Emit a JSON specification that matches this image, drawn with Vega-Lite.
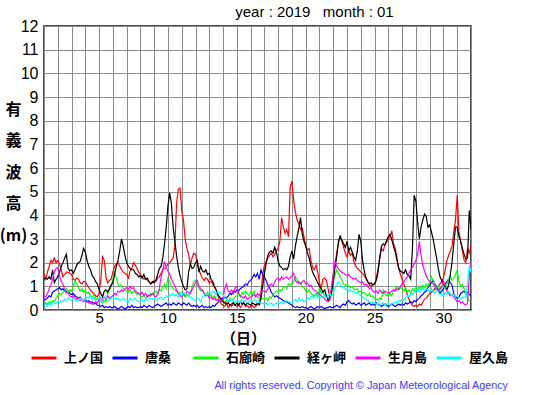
{
"$schema":"https://vega.github.io/schema/vega-lite/v6.json",
"width":427,"height":284,
"autosize":{"type":"none"},
"padding":{"left":44,"top":26,"right":84,"bottom":85},
"background":"white",
"config":{"view":{"stroke":"#111","strokeWidth":1.5},"font":"Liberation Sans"},
"title":{"text":"year : 2019 \u00a0 month : 01","font":"Liberation Sans","fontSize":15,"fontWeight":"normal","color":"#000","anchor":"middle","dx":57,"offset":-2},
"data":{"values":[
{"t":1,"上ノ国":1.5,"唐桑":0.4,"石廊崎":0.2,"経ヶ岬":1.3,"生月島":0.6,"屋久島":0.2},
{"t":1.125,"上ノ国":1.3,"唐桑":0.45,"石廊崎":0.3,"経ヶ岬":1.35,"生月島":0.55,"屋久島":0.25},
{"t":1.25,"上ノ国":1.6,"唐桑":0.5,"石廊崎":0.25,"経ヶ岬":1.3,"生月島":0.7,"屋久島":0.15},
{"t":1.375,"上ノ国":1.85,"唐桑":0.6,"石廊崎":0.35,"経ヶ岬":1.4,"生月島":0.9,"屋久島":0.3},
{"t":1.5,"上ノ国":2.1,"唐桑":0.55,"石廊崎":0.3,"経ヶ岬":1.3,"生月島":1.05,"屋久島":0.2},
{"t":1.625,"上ノ国":2.0,"唐桑":0.75,"石廊崎":0.4,"経ヶ岬":1.7,"生月島":1.3,"屋久島":0.35},
{"t":1.75,"上ノ国":2.2,"唐桑":0.8,"石廊崎":0.35,"経ヶ岬":1.15,"生月島":1.6,"屋久島":0.25},
{"t":1.875,"上ノ国":2.0,"唐桑":0.85,"石廊崎":0.5,"経ヶ岬":1.3,"生月島":1.75,"屋久島":0.3},
{"t":2,"上ノ国":2.1,"唐桑":0.9,"石廊崎":0.6,"経ヶ岬":1.4,"生月島":1.8,"屋久島":0.35},
{"t":2.125,"上ノ国":1.95,"唐桑":0.95,"石廊崎":0.7,"経ヶ岬":1.6,"生月島":1.45,"屋久島":0.3},
{"t":2.25,"上ノ国":1.7,"唐桑":0.85,"石廊崎":0.65,"経ヶ岬":1.85,"生月島":1.2,"屋久島":0.4},
{"t":2.375,"上ノ国":1.4,"唐桑":0.9,"石廊崎":0.75,"経ヶ岬":2.0,"生月島":1.1,"屋久島":0.35},
{"t":2.5,"上ノ国":1.5,"唐桑":0.8,"石廊崎":0.8,"経ヶ岬":2.2,"生月島":0.9,"屋久島":0.45},
{"t":2.625,"上ノ国":1.6,"唐桑":0.75,"石廊崎":0.9,"経ヶ岬":2.35,"生月島":0.75,"屋久島":0.4},
{"t":2.75,"上ノ国":1.6,"唐桑":0.8,"石廊崎":0.75,"経ヶ岬":1.75,"生月島":0.7,"屋久島":0.5},
{"t":2.875,"上ノ国":1.55,"唐桑":0.7,"石廊崎":0.85,"経ヶ岬":1.65,"生月島":0.6,"屋久島":0.45},
{"t":3,"上ノ国":1.5,"唐桑":0.65,"石廊崎":0.8,"経ヶ岬":1.7,"生月島":0.55,"屋久島":0.4},
{"t":3.125,"上ノ国":1.3,"唐桑":0.7,"石廊崎":1.0,"経ヶ岬":1.55,"生月島":0.6,"屋久島":0.5},
{"t":3.25,"上ノ国":1.25,"唐桑":0.6,"石廊崎":1.25,"経ヶ岬":1.7,"生月島":0.5,"屋久島":0.45},
{"t":3.375,"上ノ国":1.35,"唐桑":0.55,"石廊崎":1.1,"経ヶ岬":1.9,"生月島":0.45,"屋久島":0.35},
{"t":3.5,"上ノ国":1.3,"唐桑":0.5,"石廊崎":0.95,"経ヶ岬":2.0,"生月島":0.5,"屋久島":0.4},
{"t":3.625,"上ノ国":1.15,"唐桑":0.55,"石廊崎":0.8,"経ヶ岬":2.05,"生月島":0.4,"屋久島":0.5},
{"t":3.75,"上ノ国":1.1,"唐桑":0.45,"石廊崎":0.9,"経ヶ岬":2.3,"生月島":0.45,"屋久島":0.45},
{"t":3.875,"上ノ国":1.2,"唐桑":0.4,"石廊崎":0.75,"経ヶ岬":2.6,"生月島":0.35,"屋久島":0.4},
{"t":4,"上ノ国":1.2,"唐桑":0.45,"石廊崎":0.85,"経ヶ岬":2.45,"生月島":0.4,"屋久島":0.45},
{"t":4.125,"上ノ国":1.05,"唐桑":0.35,"石廊崎":0.7,"経ヶ岬":2.1,"生月島":0.35,"屋久島":0.55},
{"t":4.25,"上ノ国":0.95,"唐桑":0.4,"石廊崎":0.75,"経ヶ岬":1.85,"生月島":0.3,"屋久島":0.5},
{"t":4.375,"上ノ国":0.85,"唐桑":0.3,"石廊崎":0.6,"経ヶ岬":1.7,"生月島":0.35,"屋久島":0.6},
{"t":4.5,"上ノ国":0.75,"唐桑":0.35,"石廊崎":0.55,"経ヶ岬":1.45,"生月島":0.25,"屋久島":0.45},
{"t":4.625,"上ノ国":0.7,"唐桑":0.25,"石廊崎":0.65,"経ヶ岬":1.35,"生月島":0.3,"屋久島":0.5},
{"t":4.75,"上ノ国":0.6,"唐桑":0.3,"石廊崎":0.5,"経ヶ岬":1.2,"生月島":0.35,"屋久島":0.4},
{"t":4.875,"上ノ国":0.55,"唐桑":0.2,"石廊崎":0.45,"経ヶ岬":1.1,"生月島":0.3,"屋久島":0.45},
{"t":5,"上ノ国":0.7,"唐桑":0.2,"石廊崎":0.5,"経ヶ岬":0.85,"生月島":0.45,"屋久島":0.5},
{"t":5.125,"上ノ国":1.3,"唐桑":0.15,"石廊崎":0.35,"経ヶ岬":0.7,"生月島":0.5,"屋久島":0.4},
{"t":5.25,"上ノ国":2.25,"唐桑":0.2,"石廊崎":0.3,"経ヶ岬":0.55,"生月島":0.4,"屋久島":0.45},
{"t":5.375,"上ノ国":2.1,"唐桑":0.1,"石廊崎":0.4,"経ヶ岬":0.8,"生月島":0.55,"屋久島":0.55},
{"t":5.5,"上ノ国":1.4,"唐桑":0.15,"石廊崎":0.35,"経ヶ岬":0.85,"生月島":0.45,"屋久島":0.5},
{"t":5.625,"上ノ国":1.15,"唐桑":0.1,"石廊崎":0.7,"経ヶ岬":0.75,"生月島":0.6,"屋久島":0.45},
{"t":5.75,"上ノ国":1.25,"唐桑":0.15,"石廊崎":0.85,"経ヶ岬":0.9,"生月島":0.5,"屋久島":0.4},
{"t":5.875,"上ノ国":1.3,"唐桑":0.1,"石廊崎":1.0,"経ヶ岬":1.05,"生月島":0.55,"屋久島":0.5},
{"t":6,"上ノ国":1.6,"唐桑":0.1,"石廊崎":1.3,"経ヶ岬":1.15,"生月島":0.6,"屋久島":0.55},
{"t":6.125,"上ノ国":1.85,"唐桑":0.15,"石廊崎":1.6,"経ヶ岬":1.5,"生月島":0.7,"屋久島":0.5},
{"t":6.25,"上ノ国":1.95,"唐桑":0.1,"石廊崎":1.35,"経ヶ岬":1.85,"生月島":0.65,"屋久島":0.45},
{"t":6.375,"上ノ国":2.0,"唐桑":0.05,"石廊崎":1.1,"経ヶ岬":2.1,"生月島":0.8,"屋久島":0.5},
{"t":6.5,"上ノ国":1.85,"唐桑":0.1,"石廊崎":1.0,"経ヶ岬":2.5,"生月島":0.75,"屋久島":0.4},
{"t":6.625,"上ノ国":1.7,"唐桑":0.15,"石廊崎":1.05,"経ヶ岬":3.0,"生月島":0.85,"屋久島":0.45},
{"t":6.75,"上ノ国":1.6,"唐桑":0.1,"石廊崎":0.9,"経ヶ岬":2.7,"生月島":0.8,"屋久島":0.5},
{"t":6.875,"上ノ国":1.55,"唐桑":0.05,"石廊崎":0.85,"経ヶ岬":2.3,"生月島":0.9,"屋久島":0.4},
{"t":7,"上ノ国":1.5,"唐桑":0.1,"石廊崎":0.8,"経ヶ岬":2.0,"生月島":0.95,"屋久島":0.45},
{"t":7.125,"上ノ国":1.35,"唐桑":0.15,"石廊崎":0.75,"経ヶ岬":1.85,"生月島":0.85,"屋久島":0.35},
{"t":7.25,"上ノ国":1.65,"唐桑":0.1,"石廊崎":0.85,"経ヶ岬":1.75,"生月島":1.0,"屋久島":0.5},
{"t":7.375,"上ノ国":1.75,"唐桑":0.2,"石廊崎":0.7,"経ヶ岬":1.7,"生月島":0.9,"屋久島":0.4},
{"t":7.5,"上ノ国":2.0,"唐桑":0.1,"石廊崎":0.8,"経ヶ岬":1.7,"生月島":0.95,"屋久島":0.45},
{"t":7.625,"上ノ国":1.9,"唐桑":0.15,"石廊崎":0.75,"経ヶ岬":1.55,"生月島":0.8,"屋久島":0.5},
{"t":7.75,"上ノ国":1.75,"唐桑":0.1,"石廊崎":0.65,"経ヶ岬":1.5,"生月島":0.75,"屋久島":0.4},
{"t":7.875,"上ノ国":1.6,"唐桑":0.1,"石廊崎":0.7,"経ヶ岬":1.4,"生月島":0.7,"屋久島":0.35},
{"t":8,"上ノ国":1.5,"唐桑":0.15,"石廊崎":0.6,"経ヶ岬":1.45,"生月島":0.65,"屋久島":0.4},
{"t":8.125,"上ノ国":1.4,"唐桑":0.1,"石廊崎":0.55,"経ヶ岬":1.35,"生月島":0.75,"屋久島":0.45},
{"t":8.25,"上ノ国":1.3,"唐桑":0.2,"石廊崎":0.65,"経ヶ岬":1.5,"生月島":0.6,"屋久島":0.35},
{"t":8.375,"上ノ国":1.35,"唐桑":0.15,"石廊崎":0.5,"経ヶ岬":1.3,"生月島":0.7,"屋久島":0.5},
{"t":8.5,"上ノ国":1.25,"唐桑":0.1,"石廊崎":0.6,"経ヶ岬":1.35,"生月島":0.55,"屋久島":0.4},
{"t":8.625,"上ノ国":1.2,"唐桑":0.2,"石廊崎":0.55,"経ヶ岬":1.2,"生月島":0.65,"屋久島":0.45},
{"t":8.75,"上ノ国":1.1,"唐桑":0.15,"石廊崎":0.7,"経ヶ岬":1.1,"生月島":0.6,"屋久島":0.5},
{"t":8.875,"上ノ国":1.15,"唐桑":0.1,"石廊崎":0.65,"経ヶ岬":1.2,"生月島":0.7,"屋久島":0.45},
{"t":9,"上ノ国":1.25,"唐桑":0.15,"石廊崎":0.75,"経ヶ岬":1.15,"生月島":0.6,"屋久島":0.5},
{"t":9.125,"上ノ国":1.2,"唐桑":0.2,"石廊崎":0.8,"経ヶ岬":1.25,"生月島":0.55,"屋久島":0.4},
{"t":9.25,"上ノ国":1.35,"唐桑":0.25,"石廊崎":0.7,"経ヶ岬":1.5,"生月島":0.65,"屋久島":0.45},
{"t":9.375,"上ノ国":1.4,"唐桑":0.2,"石廊崎":0.85,"経ヶ岬":1.75,"生月島":0.9,"屋久島":0.5},
{"t":9.5,"上ノ国":1.55,"唐桑":0.15,"石廊崎":0.8,"経ヶ岬":1.85,"生月島":1.4,"屋久島":0.55},
{"t":9.625,"上ノ国":1.7,"唐桑":0.2,"石廊崎":0.95,"経ヶ岬":2.2,"生月島":1.7,"屋久島":0.45},
{"t":9.75,"上ノ国":1.75,"唐桑":0.25,"石廊崎":1.1,"経ヶ岬":2.8,"生月島":2.05,"屋久島":0.5},
{"t":9.875,"上ノ国":1.8,"唐桑":0.3,"石廊崎":0.9,"経ヶ岬":3.5,"生月島":1.8,"屋久島":0.6},
{"t":10,"上ノ国":1.95,"唐桑":0.2,"石廊崎":1.35,"経ヶ岬":4.4,"生月島":1.65,"屋久島":0.55},
{"t":10.125,"上ノ国":2.0,"唐桑":0.25,"石廊崎":1.2,"経ヶ岬":4.95,"生月島":1.5,"屋久島":0.65},
{"t":10.25,"上ノ国":2.1,"唐桑":0.2,"石廊崎":1.0,"経ヶ岬":4.5,"生月島":1.3,"屋久島":0.6},
{"t":10.375,"上ノ国":2.2,"唐桑":0.3,"石廊崎":0.9,"経ヶ岬":3.5,"生月島":1.15,"屋久島":0.7},
{"t":10.5,"上ノ国":2.7,"唐桑":0.25,"石廊崎":0.85,"経ヶ岬":2.9,"生月島":1.0,"屋久島":0.6},
{"t":10.625,"上ノ国":4.5,"唐桑":0.2,"石廊崎":0.8,"経ヶ岬":2.3,"生月島":0.85,"屋久島":0.65},
{"t":10.75,"上ノ国":5.1,"唐桑":0.3,"石廊崎":0.7,"経ヶ岬":1.8,"生月島":0.7,"屋久島":0.55},
{"t":10.875,"上ノ国":5.15,"唐桑":0.25,"石廊崎":0.75,"経ヶ岬":1.45,"生月島":0.6,"屋久島":0.7},
{"t":11,"上ノ国":4.2,"唐桑":0.2,"石廊崎":0.6,"経ヶ岬":1.2,"生月島":0.55,"屋久島":0.6},
{"t":11.125,"上ノ国":3.8,"唐桑":0.3,"石廊崎":0.7,"経ヶ岬":1.0,"生月島":0.65,"屋久島":0.75},
{"t":11.25,"上ノ国":3.0,"唐桑":0.25,"石廊崎":0.55,"経ヶ岬":0.85,"生月島":0.6,"屋久島":0.65},
{"t":11.375,"上ノ国":2.6,"唐桑":0.2,"石廊崎":0.65,"経ヶ岬":0.9,"生月島":0.8,"屋久島":0.6},
{"t":11.5,"上ノ国":2.35,"唐桑":0.3,"石廊崎":0.6,"経ヶ岬":1.6,"生月島":0.75,"屋久島":0.7},
{"t":11.625,"上ノ国":1.9,"唐桑":0.2,"石廊崎":0.7,"経ヶ岬":1.95,"生月島":0.7,"屋久島":0.55},
{"t":11.75,"上ノ国":2.2,"唐桑":0.15,"石廊崎":1.0,"経ヶ岬":1.75,"生月島":0.85,"屋久島":0.5},
{"t":11.875,"上ノ国":2.4,"唐桑":0.2,"石廊崎":1.2,"経ヶ岬":1.8,"生月島":1.0,"屋久島":0.45},
{"t":12,"上ノ国":2.35,"唐桑":0.15,"石廊崎":1.25,"経ヶ岬":2.0,"生月島":1.15,"屋久島":0.4},
{"t":12.125,"上ノ国":1.95,"唐桑":0.2,"石廊崎":1.1,"経ヶ岬":2.1,"生月島":1.25,"屋久島":0.5},
{"t":12.25,"上ノ国":1.7,"唐桑":0.1,"石廊崎":0.9,"経ヶ岬":1.6,"生月島":1.0,"屋久島":0.45},
{"t":12.375,"上ノ国":1.5,"唐桑":0.15,"石廊崎":0.8,"経ヶ岬":1.85,"生月島":0.9,"屋久島":0.35},
{"t":12.5,"上ノ国":1.35,"唐桑":0.2,"石廊崎":0.85,"経ヶ岬":1.65,"生月島":0.85,"屋久島":0.55},
{"t":12.625,"上ノ国":1.25,"唐桑":0.1,"石廊崎":0.7,"経ヶ岬":1.6,"生月島":0.7,"屋久島":0.6},
{"t":12.75,"上ノ国":1.35,"唐桑":0.15,"石廊崎":0.6,"経ヶ岬":1.7,"生月島":0.6,"屋久島":0.7},
{"t":12.875,"上ノ国":1.3,"唐桑":0.1,"石廊崎":0.75,"経ヶ岬":1.5,"生月島":0.65,"屋久島":0.65},
{"t":13,"上ノ国":1.15,"唐桑":0.15,"石廊崎":0.55,"経ヶ岬":1.55,"生月島":0.5,"屋久島":0.75},
{"t":13.125,"上ノ国":1.2,"唐桑":0.1,"石廊崎":0.65,"経ヶ岬":1.3,"生月島":0.55,"屋久島":0.7},
{"t":13.25,"上ノ国":1.1,"唐桑":0.2,"石廊崎":0.5,"経ヶ岬":1.2,"生月島":0.45,"屋久島":0.8},
{"t":13.375,"上ノ国":0.95,"唐桑":0.15,"石廊崎":0.6,"経ヶ岬":1.0,"生月島":0.5,"屋久島":0.75},
{"t":13.5,"上ノ国":0.85,"唐桑":0.25,"石廊崎":0.45,"経ヶ岬":0.85,"生月島":0.4,"屋久島":0.65},
{"t":13.625,"上ノ国":0.6,"唐桑":0.3,"石廊崎":0.4,"経ヶ岬":0.65,"生月島":0.45,"屋久島":0.8},
{"t":13.75,"上ノ国":0.4,"唐桑":0.4,"石廊崎":0.5,"経ヶ岬":0.55,"生月島":0.35,"屋久島":0.7},
{"t":13.875,"上ノ国":0.25,"唐桑":0.5,"石廊崎":0.35,"経ヶ岬":0.45,"生月島":0.4,"屋久島":0.75},
{"t":14,"上ノ国":0.2,"唐桑":0.45,"石廊崎":0.45,"経ヶ岬":0.35,"生月島":0.5,"屋久島":0.65},
{"t":14.125,"上ノ国":0.15,"唐桑":0.55,"石廊崎":0.3,"経ヶ岬":0.3,"生月島":0.9,"屋久島":0.5},
{"t":14.25,"上ノ国":0.3,"唐桑":0.5,"石廊崎":0.4,"経ヶ岬":0.25,"生月島":1.1,"屋久島":0.45},
{"t":14.375,"上ノ国":0.1,"唐桑":0.6,"石廊崎":0.35,"経ヶ岬":0.3,"生月島":0.8,"屋久島":0.4},
{"t":14.5,"上ノ国":0.2,"唐桑":0.7,"石廊崎":0.5,"経ヶ岬":0.2,"生月島":0.75,"屋久島":0.35},
{"t":14.625,"上ノ国":0.15,"唐桑":0.65,"石廊崎":0.4,"経ヶ岬":0.25,"生月島":0.85,"屋久島":0.45},
{"t":14.75,"上ノ国":0.3,"唐桑":0.8,"石廊崎":0.45,"経ヶ岬":0.3,"生月島":0.7,"屋久島":0.4},
{"t":14.875,"上ノ国":0.2,"唐桑":0.75,"石廊崎":0.55,"経ヶ岬":0.2,"生月島":0.95,"屋久島":0.3},
{"t":15,"上ノ国":0.15,"唐桑":0.85,"石廊崎":0.6,"経ヶ岬":0.3,"生月島":1.0,"屋久島":0.35},
{"t":15.125,"上ノ国":0.25,"唐桑":0.8,"石廊崎":0.7,"経ヶ岬":0.2,"生月島":0.7,"屋久島":0.4},
{"t":15.25,"上ノ国":0.1,"唐桑":0.9,"石廊崎":0.55,"経ヶ岬":0.35,"生月島":0.6,"屋久島":0.3},
{"t":15.375,"上ノ国":0.2,"唐桑":0.95,"石廊崎":0.75,"経ヶ岬":0.25,"生月島":0.55,"屋久島":0.45},
{"t":15.5,"上ノ国":0.3,"唐桑":1.0,"石廊崎":0.65,"経ヶ岬":0.3,"生月島":0.5,"屋久島":0.35},
{"t":15.625,"上ノ国":0.15,"唐桑":1.1,"石廊崎":0.8,"経ヶ岬":0.2,"生月島":0.6,"屋久島":0.4},
{"t":15.75,"上ノ国":0.2,"唐桑":1.05,"石廊崎":0.7,"経ヶ岬":0.3,"生月島":0.45,"屋久島":0.3},
{"t":15.875,"上ノ国":0.1,"唐桑":1.2,"石廊崎":0.6,"経ヶ岬":0.25,"生月島":0.5,"屋久島":0.35},
{"t":16,"上ノ国":0.15,"唐桑":1.25,"石廊崎":0.75,"経ヶ岬":0.2,"生月島":0.55,"屋久島":0.4},
{"t":16.125,"上ノ国":0.2,"唐桑":1.35,"石廊崎":0.65,"経ヶ岬":0.3,"生月島":0.6,"屋久島":0.35},
{"t":16.25,"上ノ国":0.1,"唐桑":1.5,"石廊崎":0.8,"経ヶ岬":0.25,"生月島":0.65,"屋久島":0.45},
{"t":16.375,"上ノ国":0.15,"唐桑":1.4,"石廊崎":0.6,"経ヶ岬":0.2,"生月島":0.55,"屋久島":0.4},
{"t":16.5,"上ノ国":0.25,"唐桑":1.55,"石廊崎":0.55,"経ヶ岬":0.3,"生月島":0.7,"屋久島":0.3},
{"t":16.625,"上ノ国":0.2,"唐桑":1.3,"石廊崎":0.5,"経ヶ岬":0.25,"生月島":0.6,"屋久島":0.35},
{"t":16.75,"上ノ国":0.7,"唐桑":1.7,"石廊崎":0.45,"経ヶ岬":0.5,"生月島":0.75,"屋久島":0.25},
{"t":16.875,"上ノ国":1.5,"唐桑":1.5,"石廊崎":0.5,"経ヶ岬":1.0,"生月島":0.8,"屋久島":0.3},
{"t":17,"上ノ国":1.9,"唐桑":1.4,"石廊崎":0.45,"経ヶ岬":1.55,"生月島":0.8,"屋久島":0.25},
{"t":17.125,"上ノ国":2.05,"唐桑":1.25,"石廊崎":0.5,"経ヶ岬":1.95,"生月島":0.75,"屋久島":0.3},
{"t":17.25,"上ノ国":2.2,"唐桑":1.05,"石廊崎":0.4,"経ヶ岬":2.3,"生月島":0.9,"屋久島":0.2},
{"t":17.375,"上ノ国":2.3,"唐桑":0.95,"石廊崎":0.55,"経ヶ岬":2.45,"生月島":1.05,"屋久島":0.25},
{"t":17.5,"上ノ国":2.4,"唐桑":0.75,"石廊崎":0.5,"経ヶ岬":2.5,"生月島":1.1,"屋久島":0.3},
{"t":17.625,"上ノ国":2.25,"唐桑":0.65,"石廊崎":0.65,"経ヶ岬":2.4,"生月島":1.0,"屋久島":0.2},
{"t":17.75,"上ノ国":2.35,"唐桑":0.55,"石廊崎":0.7,"経ヶ岬":2.65,"生月島":1.2,"屋久島":0.25},
{"t":17.875,"上ノ国":2.5,"唐桑":0.6,"石廊崎":0.8,"経ヶ岬":2.45,"生月島":1.3,"屋久島":0.3},
{"t":18,"上ノ国":2.6,"唐桑":0.55,"石廊崎":0.75,"経ヶ岬":2.05,"生月島":1.35,"屋久島":0.25},
{"t":18.125,"上ノ国":2.9,"唐桑":0.5,"石廊崎":0.85,"経ヶ岬":1.85,"生月島":1.25,"屋久島":0.3},
{"t":18.25,"上ノ国":3.9,"唐桑":0.45,"石廊崎":0.8,"経ヶ岬":1.8,"生月島":1.4,"屋久島":0.35},
{"t":18.375,"上ノ国":3.5,"唐桑":0.4,"石廊崎":0.95,"経ヶ岬":1.7,"生月島":1.3,"屋久島":0.25},
{"t":18.5,"上ノ国":3.25,"唐桑":0.35,"石廊崎":1.0,"経ヶ岬":1.75,"生月島":1.35,"屋久島":0.3},
{"t":18.625,"上ノ国":3.4,"唐桑":0.35,"石廊崎":0.9,"経ヶ岬":1.7,"生月島":1.4,"屋久島":0.4},
{"t":18.75,"上ノ国":3.1,"唐桑":0.3,"石廊崎":1.1,"経ヶ岬":1.85,"生月島":1.3,"屋久島":0.35},
{"t":18.875,"上ノ国":5.2,"唐桑":0.25,"石廊崎":1.05,"経ヶ岬":2.25,"生月島":1.35,"屋久島":0.3},
{"t":19,"上ノ国":5.45,"唐桑":0.2,"石廊崎":1.15,"経ヶ岬":2.5,"生月島":1.45,"屋久島":0.35},
{"t":19.125,"上ノ国":4.6,"唐桑":0.15,"石廊崎":1.2,"経ヶ岬":2.15,"生月島":1.55,"屋久島":0.4},
{"t":19.25,"上ノ国":4.15,"唐桑":0.1,"石廊崎":1.4,"経ヶ岬":2.7,"生月島":1.25,"屋久島":0.45},
{"t":19.375,"上ノ国":3.8,"唐桑":0.15,"石廊崎":1.3,"経ヶ岬":3.1,"生月島":1.15,"屋久島":0.35},
{"t":19.5,"上ノ国":3.65,"唐桑":0.1,"石廊崎":1.1,"経ヶ岬":3.45,"生月島":1.2,"屋久島":0.5},
{"t":19.625,"上ノ国":3.4,"唐桑":0.1,"石廊崎":1.15,"経ヶ岬":3.9,"生月島":1.1,"屋久島":0.4},
{"t":19.75,"上ノ国":3.45,"唐桑":0.15,"石廊崎":1.0,"経ヶ岬":3.2,"生月島":1.2,"屋久島":0.45},
{"t":19.875,"上ノ国":3.1,"唐桑":0.1,"石廊崎":0.95,"経ヶ岬":2.9,"生月島":1.25,"屋久島":0.35},
{"t":20,"上ノ国":2.7,"唐桑":0.1,"石廊崎":0.8,"経ヶ岬":2.7,"生月島":1.1,"屋久島":0.4},
{"t":20.125,"上ノ国":2.55,"唐桑":0.05,"石廊崎":0.75,"経ヶ岬":2.4,"生月島":1.15,"屋久島":0.5},
{"t":20.25,"上ノ国":2.6,"唐桑":0.1,"石廊崎":0.85,"経ヶ岬":2.2,"生月島":1.0,"屋久島":0.45},
{"t":20.375,"上ノ国":2.1,"唐桑":0.15,"石廊崎":0.7,"経ヶ岬":1.85,"生月島":1.05,"屋久島":0.55},
{"t":20.5,"上ノ国":1.8,"唐桑":0.1,"石廊崎":0.65,"経ヶ岬":1.6,"生月島":0.9,"屋久島":0.6},
{"t":20.625,"上ノ国":1.7,"唐桑":0.05,"石廊崎":0.6,"経ヶ岬":1.45,"生月島":0.85,"屋久島":0.5},
{"t":20.75,"上ノ国":1.9,"唐桑":0.1,"石廊崎":0.7,"経ヶ岬":1.3,"生月島":0.8,"屋久島":0.65},
{"t":20.875,"上ノ国":1.6,"唐桑":0.15,"石廊崎":0.55,"経ヶ岬":1.15,"生月島":0.7,"屋久島":0.55},
{"t":21,"上ノ国":1.15,"唐桑":0.1,"石廊崎":0.95,"経ヶ岬":1.0,"生月島":0.65,"屋久島":0.6},
{"t":21.125,"上ノ国":0.9,"唐桑":0.15,"石廊崎":0.7,"経ヶ岬":0.9,"生月島":0.6,"屋久島":0.5},
{"t":21.25,"上ノ国":1.3,"唐桑":0.1,"石廊崎":0.8,"経ヶ岬":0.75,"生月島":0.55,"屋久島":0.55},
{"t":21.375,"上ノ国":1.35,"唐桑":0.05,"石廊崎":0.6,"経ヶ岬":0.85,"生月島":0.45,"屋久島":0.65},
{"t":21.5,"上ノ国":1.25,"唐桑":0.1,"石廊崎":0.65,"経ヶ岬":0.6,"生月島":0.4,"屋久島":0.5},
{"t":21.625,"上ノ国":0.9,"唐桑":0.1,"石廊崎":0.5,"経ヶ岬":0.4,"生月島":0.35,"屋久島":0.6},
{"t":21.75,"上ノ国":0.5,"唐桑":0.15,"石廊崎":0.55,"経ヶ岬":0.5,"生月島":0.4,"屋久島":0.7},
{"t":21.875,"上ノ国":0.9,"唐桑":0.1,"石廊崎":0.7,"経ヶ岬":0.75,"生月島":1.0,"屋久島":0.55},
{"t":22,"上ノ国":1.5,"唐桑":0.1,"石廊崎":1.2,"経ヶ岬":1.2,"生月島":1.5,"屋久島":0.7},
{"t":22.125,"上ノ国":1.95,"唐桑":0.15,"石廊崎":1.45,"経ヶ岬":1.8,"生月島":2.05,"屋久島":0.95},
{"t":22.25,"上ノ国":2.4,"唐桑":0.2,"石廊崎":1.7,"経ヶ岬":2.25,"生月島":1.85,"屋久島":1.1},
{"t":22.375,"上ノ国":2.8,"唐桑":0.15,"石廊崎":1.55,"経ヶ岬":2.9,"生月島":1.75,"屋久島":1.2},
{"t":22.5,"上ノ国":3.15,"唐桑":0.1,"石廊崎":1.4,"経ヶ岬":3.1,"生月島":1.65,"屋久島":1.05},
{"t":22.625,"上ノ国":2.9,"唐桑":0.2,"石廊崎":1.3,"経ヶ岬":2.95,"生月島":1.6,"屋久島":0.95},
{"t":22.75,"上ノ国":2.65,"唐桑":0.25,"石廊崎":1.1,"経ヶ岬":2.8,"生月島":1.55,"屋久島":1.0},
{"t":22.875,"上ノ国":2.4,"唐桑":0.2,"石廊崎":1.05,"経ヶ岬":2.65,"生月島":1.5,"屋久島":0.85},
{"t":23,"上ノ国":2.25,"唐桑":0.35,"石廊崎":1.1,"経ヶ岬":2.9,"生月島":1.45,"屋久島":0.9},
{"t":23.125,"上ノ国":2.5,"唐桑":0.4,"石廊崎":1.0,"経ヶ岬":2.5,"生月島":1.5,"屋久島":0.8},
{"t":23.25,"上ノ国":2.3,"唐桑":0.3,"石廊崎":0.95,"経ヶ岬":2.65,"生月島":1.4,"屋久島":0.85},
{"t":23.375,"上ノ国":2.4,"唐桑":0.25,"石廊崎":1.0,"経ヶ岬":2.45,"生月島":1.35,"屋久島":0.75},
{"t":23.5,"上ノ国":2.05,"唐桑":0.3,"石廊崎":0.9,"経ヶ岬":2.25,"生月島":1.3,"屋久島":0.8},
{"t":23.625,"上ノ国":1.85,"唐桑":0.2,"石廊崎":0.85,"経ヶ岬":2.1,"生月島":1.35,"屋久島":0.7},
{"t":23.75,"上ノ国":1.75,"唐桑":0.25,"石廊崎":0.9,"経ヶ岬":2.5,"生月島":1.25,"屋久島":0.75},
{"t":23.875,"上ノ国":1.7,"唐桑":0.3,"石廊崎":0.75,"経ヶ岬":3.2,"生月島":1.2,"屋久島":0.65},
{"t":24,"上ノ国":1.6,"唐桑":0.2,"石廊崎":0.8,"経ヶ岬":2.9,"生月島":1.15,"屋久島":0.6},
{"t":24.125,"上ノ国":1.55,"唐桑":0.25,"石廊崎":0.7,"経ヶ岬":2.1,"生月島":1.2,"屋久島":0.55},
{"t":24.25,"上ノ国":1.45,"唐桑":0.3,"石廊崎":0.75,"経ヶ岬":1.65,"生月島":1.05,"屋久島":0.5},
{"t":24.375,"上ノ国":1.35,"唐桑":0.2,"石廊崎":0.65,"経ヶ岬":1.35,"生月島":1.1,"屋久島":0.45},
{"t":24.5,"上ノ国":1.2,"唐桑":0.25,"石廊崎":0.6,"経ヶ岬":1.2,"生月島":1.0,"屋久島":0.4},
{"t":24.625,"上ノ国":1.05,"唐桑":0.3,"石廊崎":0.7,"経ヶ岬":1.1,"生月島":0.9,"屋久島":0.35},
{"t":24.75,"上ノ国":1.0,"唐桑":0.2,"石廊崎":0.55,"経ヶ岬":1.15,"生月島":0.95,"屋久島":0.3},
{"t":24.875,"上ノ国":1.1,"唐桑":0.25,"石廊崎":0.6,"経ヶ岬":1.05,"生月島":0.8,"屋久島":0.35},
{"t":25,"上ノ国":1.1,"唐桑":0.2,"石廊崎":0.5,"経ヶ岬":1.1,"生月島":0.75,"屋久島":0.3},
{"t":25.125,"上ノ国":1.35,"唐桑":0.3,"石廊崎":0.45,"経ヶ岬":1.25,"生月島":0.8,"屋久島":0.25},
{"t":25.25,"上ノ国":1.75,"唐桑":0.25,"石廊崎":0.4,"経ヶ岬":1.6,"生月島":0.7,"屋久島":0.3},
{"t":25.375,"上ノ国":2.2,"唐桑":0.2,"石廊崎":0.5,"経ヶ岬":2.2,"生月島":0.85,"屋久島":0.2},
{"t":25.5,"上ノ国":2.6,"唐桑":0.15,"石廊崎":0.45,"経ヶ岬":2.7,"生月島":0.75,"屋久島":0.25},
{"t":25.625,"上ノ国":2.5,"唐桑":0.2,"石廊崎":0.85,"経ヶ岬":2.8,"生月島":0.7,"屋久島":0.3},
{"t":25.75,"上ノ国":2.75,"唐桑":0.25,"石廊崎":0.7,"経ヶ岬":2.75,"生月島":0.8,"屋久島":0.2},
{"t":25.875,"上ノ国":2.85,"唐桑":0.2,"石廊崎":0.6,"経ヶ岬":2.95,"生月島":0.75,"屋久島":0.25},
{"t":26,"上ノ国":3.0,"唐桑":0.15,"石廊崎":0.65,"経ヶ岬":3.1,"生月島":0.7,"屋久島":0.3},
{"t":26.125,"上ノ国":3.1,"唐桑":0.2,"石廊崎":0.7,"経ヶ岬":3.2,"生月島":0.75,"屋久島":0.2},
{"t":26.25,"上ノ国":3.35,"唐桑":0.25,"石廊崎":0.6,"経ヶ岬":2.95,"生月島":0.8,"屋久島":0.25},
{"t":26.375,"上ノ国":2.8,"唐桑":0.2,"石廊崎":0.85,"経ヶ岬":2.7,"生月島":0.85,"屋久島":0.3},
{"t":26.5,"上ノ国":2.6,"唐桑":0.15,"石廊崎":0.9,"経ヶ岬":2.45,"生月島":0.8,"屋久島":0.35},
{"t":26.625,"上ノ国":2.2,"唐桑":0.2,"石廊崎":1.0,"経ヶ岬":2.1,"生月島":0.9,"屋久島":0.3},
{"t":26.75,"上ノ国":1.8,"唐桑":0.25,"石廊崎":0.85,"経ヶ岬":1.75,"生月島":0.85,"屋久島":0.4},
{"t":26.875,"上ノ国":1.5,"唐桑":0.2,"石廊崎":0.95,"経ヶ岬":1.65,"生月島":1.0,"屋久島":0.35},
{"t":27,"上ノ国":1.3,"唐桑":0.25,"石廊崎":0.9,"経ヶ岬":1.6,"生月島":1.1,"屋久島":0.45},
{"t":27.125,"上ノ国":1.1,"唐桑":0.2,"石廊崎":0.8,"経ヶ岬":1.55,"生月島":1.2,"屋久島":0.4},
{"t":27.25,"上ノ国":0.9,"唐桑":0.3,"石廊崎":0.95,"経ヶ岬":1.7,"生月島":1.3,"屋久島":0.5},
{"t":27.375,"上ノ国":0.65,"唐桑":0.25,"石廊崎":0.75,"経ヶ岬":1.5,"生月島":1.4,"屋久島":0.6},
{"t":27.5,"上ノ国":0.45,"唐桑":0.3,"石廊崎":0.85,"経ヶ岬":1.45,"生月島":1.55,"屋久島":0.55},
{"t":27.625,"上ノ国":0.3,"唐桑":0.35,"石廊崎":0.7,"経ヶ岬":1.3,"生月島":1.7,"屋久島":0.7},
{"t":27.75,"上ノ国":0.2,"唐桑":0.3,"石廊崎":0.9,"経ヶ岬":2.6,"生月島":1.8,"屋久島":0.65},
{"t":27.875,"上ノ国":0.15,"唐桑":0.4,"石廊崎":0.8,"経ヶ岬":4.85,"生月島":1.95,"屋久島":0.75},
{"t":28,"上ノ国":0.2,"唐桑":0.35,"石廊崎":0.95,"経ヶ岬":4.6,"生月島":2.1,"屋久島":0.8},
{"t":28.125,"上ノ国":0.15,"唐桑":0.45,"石廊崎":0.85,"経ヶ岬":3.7,"生月島":2.35,"屋久島":0.9},
{"t":28.25,"上ノ国":0.25,"唐桑":0.5,"石廊崎":1.0,"経ヶ岬":3.0,"生月島":2.9,"屋久島":0.75},
{"t":28.375,"上ノ国":0.2,"唐桑":0.6,"石廊崎":0.9,"経ヶ岬":3.5,"生月島":2.3,"屋久島":0.85},
{"t":28.5,"上ノ国":0.35,"唐桑":0.65,"石廊崎":1.05,"経ヶ岬":3.8,"生月島":1.9,"屋久島":0.95},
{"t":28.625,"上ノ国":0.45,"唐桑":0.75,"石廊崎":0.95,"経ヶ岬":4.05,"生月島":1.65,"屋久島":0.8},
{"t":28.75,"上ノ国":0.5,"唐桑":0.8,"石廊崎":1.1,"経ヶ岬":3.95,"生月島":1.45,"屋久島":0.9},
{"t":28.875,"上ノ国":0.6,"唐桑":0.95,"石廊崎":1.0,"経ヶ岬":3.5,"生月島":1.3,"屋久島":0.85},
{"t":29,"上ノ国":0.7,"唐桑":1.05,"石廊崎":1.2,"経ヶ岬":3.6,"生月島":1.2,"屋久島":0.75},
{"t":29.125,"上ノ国":0.75,"唐桑":1.15,"石廊崎":1.4,"経ヶ岬":3.3,"生月島":1.15,"屋久島":0.9},
{"t":29.25,"上ノ国":0.8,"唐桑":1.25,"石廊崎":1.25,"経ヶ岬":3.0,"生月島":1.1,"屋久島":0.8},
{"t":29.375,"上ノ国":0.9,"唐桑":1.1,"石廊崎":1.1,"経ヶ岬":2.6,"生月島":1.0,"屋久島":0.7},
{"t":29.5,"上ノ国":0.85,"唐桑":1.0,"石廊崎":0.9,"経ヶ岬":2.2,"生月島":0.85,"屋久島":0.85},
{"t":29.625,"上ノ国":1.0,"唐桑":0.85,"石廊崎":1.0,"経ヶ岬":1.75,"生月島":0.8,"屋久島":0.75},
{"t":29.75,"上ノ国":1.1,"唐桑":0.7,"石廊崎":0.8,"経ヶ岬":1.4,"生月島":0.9,"屋久島":0.65},
{"t":29.875,"上ノ国":1.2,"唐桑":0.8,"石廊崎":0.95,"経ヶ岬":1.25,"生月島":1.0,"屋久島":0.7},
{"t":30,"上ノ国":1.35,"唐桑":0.9,"石廊崎":1.0,"経ヶ岬":1.1,"生月島":1.2,"屋久島":0.6},
{"t":30.125,"上ノ国":1.7,"唐桑":1.1,"石廊崎":0.9,"経ヶ岬":1.0,"生月島":1.0,"屋久島":0.75},
{"t":30.25,"上ノ国":2.1,"唐桑":1.2,"石廊崎":1.1,"経ヶ岬":0.85,"生月島":0.8,"屋久島":0.65},
{"t":30.375,"上ノ国":2.3,"唐桑":1.3,"石廊崎":1.3,"経ヶ岬":1.05,"生月島":0.7,"屋久島":0.8},
{"t":30.5,"上ノ国":2.5,"唐桑":1.15,"石廊崎":1.4,"経ヶ岬":1.5,"生月島":0.6,"屋久島":0.7},
{"t":30.625,"上ノ国":2.7,"唐桑":1.05,"石廊崎":1.25,"経ヶ岬":2.05,"生月島":0.65,"屋久島":0.6},
{"t":30.75,"上ノ国":3.3,"唐桑":0.7,"石廊崎":1.35,"経ヶ岬":2.8,"生月島":0.55,"屋久島":0.65},
{"t":30.875,"上ノ国":3.8,"唐桑":0.55,"石廊崎":1.5,"経ヶ岬":3.5,"生月島":0.45,"屋久島":0.55},
{"t":31,"上ノ国":4.85,"唐桑":0.5,"石廊崎":1.7,"経ヶ岬":3.5,"生月島":0.35,"屋久島":0.6},
{"t":31.125,"上ノ国":3.3,"唐桑":0.55,"石廊崎":1.2,"経ヶ岬":3.1,"生月島":0.4,"屋久島":0.5},
{"t":31.25,"上ノ国":2.9,"唐桑":0.7,"石廊崎":1.0,"経ヶ岬":2.9,"生月島":0.3,"屋久島":0.45},
{"t":31.375,"上ノ国":2.5,"唐桑":0.75,"石廊崎":1.1,"経ヶ岬":2.6,"生月島":0.35,"屋久島":0.55},
{"t":31.5,"上ノ国":2.1,"唐桑":0.8,"石廊崎":0.9,"経ヶ岬":2.35,"生月島":0.25,"屋久島":0.5},
{"t":31.625,"上ノ国":2.0,"唐桑":0.7,"石廊崎":0.7,"経ヶ岬":2.15,"生月島":0.2,"屋久島":0.6},
{"t":31.75,"上ノ国":2.6,"唐桑":0.75,"石廊崎":0.5,"経ヶ岬":2.2,"生月島":0.3,"屋久島":1.1},
{"t":31.875,"上ノ国":2.4,"唐桑":0.65,"石廊崎":0.4,"経ヶ岬":4.2,"生月島":1.4,"屋久島":1.9},
{"t":32,"上ノ国":2.7,"唐桑":0.6,"石廊崎":0.45,"経ヶ岬":3.4,"生月島":2.0,"屋久島":1.6}
]},
"transform":[{"fold":["上ノ国","唐桑","石廊崎","経ヶ岬","生月島","屋久島"],"as":["station","h"]}],
"mark":{"type":"line","strokeWidth":1.2,"clip":true},
"encoding":{
"x":{"field":"t","type":"quantitative","scale":{"domain":[1,32],"nice":false,"zero":false},
"axis":{"values":[1,2,3,4,5,6,7,8,9,10,11,12,13,14,15,16,17,18,19,20,21,22,23,24,25,26,27,28,29,30,31,32],
"labelExpr":"datum.value % 5 === 0 ? datum.label : ''","labelOverlap":false,"labelFlush":false,
"grid":true,"gridColor":"#8c8c8c","gridWidth":1,"ticks":false,"domain":false,
"labelFont":"Liberation Sans","labelFontSize":15,"labelColor":"#000","labelPadding":0,
"title":"（日）","titleFont":"Noto Sans CJK JP","titleFontSize":15,"titleFontWeight":"bold","titleColor":"#000",
"titleX":199,"titleY":28,"titleAlign":"center","titleBaseline":"middle"}},
"y":{"field":"h","type":"quantitative","scale":{"domain":[0,12],"nice":false},
"axis":{"values":[0,1,2,3,4,5,6,7,8,9,10,11,12],"labelOverlap":false,"labelFlush":false,
"grid":true,"gridColor":"#8c8c8c","gridWidth":1,"ticks":false,"domain":false,
"labelFont":"Liberation Sans Narrow, Liberation Sans","labelFontSize":16,"labelColor":"#000","labelPadding":6,
"title":["有","義","波","高","(m)"],"titleFont":"Noto Sans CJK JP","titleFontSize":16,"titleFontWeight":"bold","titleColor":"#000",
"titleAngle":0,"titleX":-31,"titleY":75,"titleAlign":"center","titleBaseline":"top","titleLineHeight":31.5}},
"color":{"field":"station","type":"nominal",
"scale":{"domain":["上ノ国","唐桑","石廊崎","経ヶ岬","生月島","屋久島"],"range":["#ff0000","#0000ff","#00ff00","#000000","#ff00ff","#00ffff"]},
"legend":{"orient":"none","legendX":-14,"legendY":318,"direction":"horizontal","columns":6,"gridAlign":"all","padding":0,
"symbolType":"stroke","symbolSize":625,"symbolStrokeWidth":3,
"labelFont":"Noto Sans CJK JP","labelFontSize":13,"labelFontWeight":"bold","labelColor":"#000","labelOffset":6,"columnPadding":2,
"title":"All rights reserved. Copyright © Japan Meteorological Agency","titleOrient":"bottom","titleAnchor":"end",
"titleFont":"Liberation Sans","titleFontSize":10.8,"titleFontWeight":"normal","titleColor":"#3b3bff","titlePadding":15,"titleLimit":600}}
}
}
